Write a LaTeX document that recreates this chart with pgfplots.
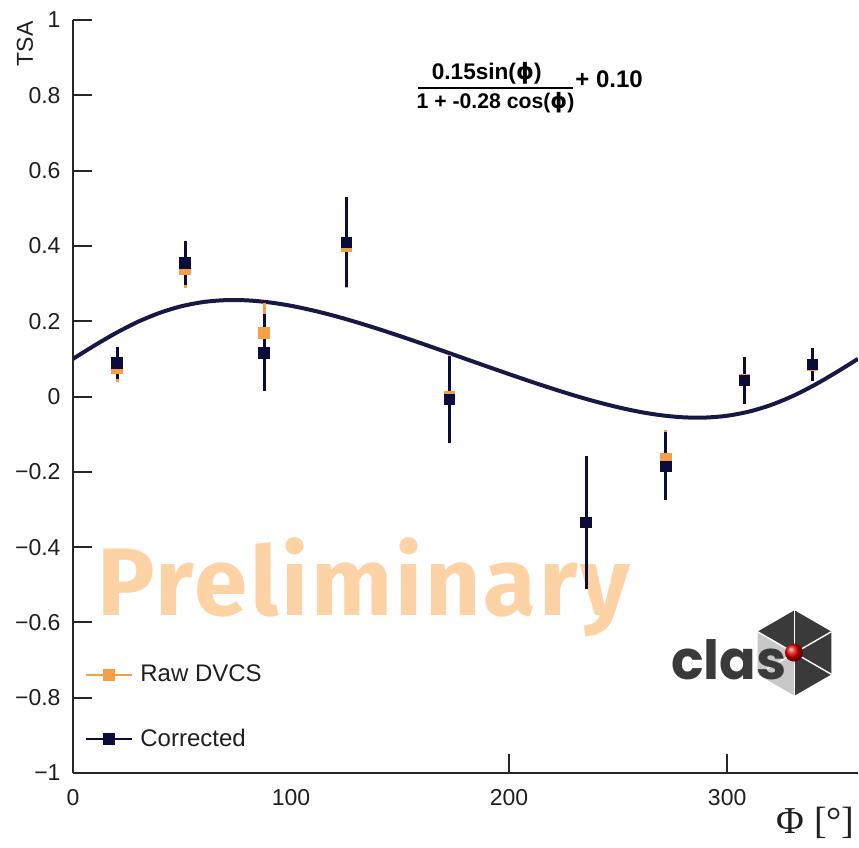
\documentclass[border=0pt]{standalone}
\usepackage{fontspec}
\setmainfont{Liberation Sans}
\newfontfamily\seriffont{Liberation Serif}
\newfontfamily\wmfont[LetterSpace=3]{Fira Sans}
\newfontfamily\clasfont{Poppins}
\newfontfamily\phifont{DejaVu Sans}
\usepackage{pgfplots}
\pgfplotsset{compat=1.18}
\definecolor{navy}{RGB}{12,12,60}
\definecolor{curvec}{RGB}{24,24,68}
\definecolor{orng}{RGB}{245,160,70}
\definecolor{wm}{RGB}{253,211,166}
\definecolor{logodark}{RGB}{58,58,58}
\definecolor{logolight}{RGB}{200,200,200}
\begin{document}
\begin{tikzpicture}
% watermark (behind everything)
\node[anchor=base west, inner sep=0pt, text=wm, font=\wmfont\bfseries\fontsize{48}{58}\selectfont] at (12pt,78.65pt) {Preliminary};
\begin{axis}[
  scale only axis, width=392.5pt, height=376.5pt,
  xmin=0, xmax=360, ymin=-1, ymax=1,
  axis lines=left, axis line style={-, line width=1pt, black!85},
  tick align=inside, major tick length=9.5pt,
  tick style={line width=1pt, black!85},
  xtick={200,300}, extra x ticks={0,100}, extra x tick style={major tick length=0pt},
  ytick={-1,-0.8,-0.6,-0.4,-0.2,0,0.2,0.4,0.6,0.8,1},
  yticklabels={−1,−0.8,−0.6,−0.4,−0.2,0,0.2,0.4,0.6,0.8,1},
  /pgf/number format/assume math mode=true,
  ticklabel style={font=\fontsize{11.5}{13}\selectfont, text=black!88},
  xticklabel style={yshift=-4.5pt},
  yticklabel style={xshift=-2.7pt},
  xlabel={\seriffont Φ [°]},
  xlabel style={at={(rel axis cs:1,0)}, anchor=base east, inner sep=0pt, yshift=-30pt, xshift=-1.5pt, font=\fontsize{19}{22}\selectfont, text=black!88},
  legend style={draw=none, fill=none, at={(0,0)}, anchor=south west, xshift=6pt, yshift=9.7pt, inner sep=0pt, row sep=18pt, column sep=1.7pt, font=\fontsize{12}{14}\selectfont, nodes={inner sep=2pt}, text=black!88},
  legend cell align=left,
  legend image code/.code={\draw[sharp plot, line width=0.8pt, mark repeat=2, mark phase=2] plot coordinates {(0pt,0pt)(11.5pt,0pt)(23pt,0pt)};},
]
% fit curve
\addplot[curvec, line width=2pt, smooth, no marks, forget plot] coordinates {
(0,0.1000)(10,0.1360)(20,0.1696)(30,0.1990)(40,0.2227)(50,0.2401)(60,0.2511)(70,0.2559)(80,0.2553)(90,0.2500)
(100,0.2409)(110,0.2286)(120,0.2140)(130,0.1974)(140,0.1794)(150,0.1604)(160,0.1406)(170,0.1204)(180,0.1000)
(190,0.0796)(200,0.0594)(210,0.0396)(220,0.0206)(230,0.0026)(240,-0.0140)(250,-0.0286)(260,-0.0409)(270,-0.0500)
(280,-0.0553)(290,-0.0559)(300,-0.0511)(310,-0.0401)(320,-0.0227)(330,0.0010)(340,0.0304)(350,0.0640)(360,0.1000)};
% raw DVCS
\addplot[orng, mark=square*, mark size=2.6pt, only marks,
  error bars/.cd, y dir=both, y explicit, error mark=none, error bar style={line width=1.5pt, orng}]
  table[x=x, y=y, y error=e] {
x y e
20.2 0.076 0.038
51.4 0.337 0.050
87.6 0.169 0.080
125.5 0.399 0.110
172.6 0.001 0.110
235.3 -0.335 0.170
271.9 -0.166 0.078
307.8 0.045 0.060
339.0 0.082 0.040
};
\addlegendentry{Raw DVCS}
% corrected
\addplot[navy, mark=square*, mark size=2.6pt, only marks,
  error bars/.cd, y dir=both, y explicit, error mark=none, error bar style={line width=1.5pt, navy}]
  table[x=x, y=y, y error=e] {
x y e
20.2 0.089 0.043
51.4 0.355 0.058
87.6 0.116 0.102
125.5 0.410 0.119
172.6 -0.008 0.116
235.3 -0.335 0.177
271.9 -0.185 0.090
307.8 0.043 0.063
339.0 0.085 0.043
};
\addlegendentry{Corrected}
\end{axis}
% y label
\node[rotate=90, anchor=east, inner sep=0pt, font=\fontsize{11.5}{13}\selectfont, text=black!88] at (-24pt,376pt) {TSA};
% formula
\node[anchor=base, inner sep=0pt, font=\bfseries\fontsize{11.3}{13}\selectfont] at (206.85pt,346.5pt) {0.15sin({\phifont\bfseries ϕ})};
\draw[line width=1pt] (172.5pt,342.5pt) -- (249.85pt,342.5pt);
\node[anchor=base, inner sep=0pt, font=\bfseries\fontsize{10.6}{12}\selectfont] at (211.25pt,332.35pt) {1 + -0.28 cos({\phifont\bfseries ϕ})};
\node[anchor=base west, inner sep=0pt, font=\bfseries\fontsize{12}{14}\selectfont] at (251pt,342.5pt) {+ 0.10};
% CLAS logo
\begin{scope}[shift={(360.75pt,60pt)}]
  \fill[logodark] (0,0) -- (90:21.35pt) -- (30:21.35pt) -- cycle;
  \fill[logodark] (0,0) -- (30:21.35pt) -- (-30:21.35pt) -- cycle;
  \fill[logodark] (0,0) -- (-30:21.35pt) -- (-90:21.35pt) -- cycle;
  \fill[logodark] (0,0) -- (150:21.35pt) -- (90:21.35pt) -- cycle;
  \fill[logolight] (0,0) -- (150:21.35pt) -- (210:21.35pt) -- cycle;
  \fill[logolight] (0,0) -- (210:21.35pt) -- (270:21.35pt) -- cycle;
  \foreach \a in {90,30,-30,-90,150,210} \draw[white, line width=0.7pt] (0,0) -- (\a:21.35pt);
\end{scope}
\node[anchor=base west, inner sep=0pt, text=logodark, font=\clasfont\bfseries\fontsize{27}{30}\selectfont] at (298.85pt,46.85pt) {clas};
\shade[ball color=red!90!black] (360.5pt,60.2pt) circle (4.5pt);
\pgfresetboundingbox
\path[use as bounding box] (-36.5pt,-37.5pt) rectangle (393pt,386.5pt);
\end{tikzpicture}
\end{document}
